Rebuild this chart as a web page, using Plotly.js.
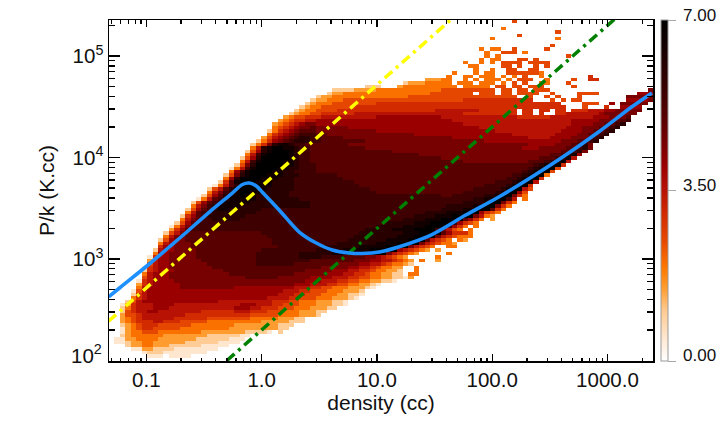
<!DOCTYPE html>
<html><head><meta charset="utf-8">
<script src="https://cdn.plot.ly/plotly-3.0.1.min.js"></script>
<style>html,body{margin:0;padding:0;background:#fff}</style></head>
<body><div id="chart" style="width:725px;height:425px"></div>
<script>
// Histogram levels, top row first. Run-length text: letter = level (a=0.5 ... n=7.0), '.' = empty bin, number = repeat.
const levelLetters = "abcdefghijklmn";
const levelStep = 0.5;
const histogramRows = [
".74e","",".72d",".82e",".75e",".70d.11d","",".81e",
".68d.1d2.2e.5e",".69d.2e3.1d",".69d.1d.12e",".68d.1d2.3e2.1e",
".65d.2d.1d.1e4.1e4",".66d2.4e2.1e.2e.1e",".67d.2d.2e2.2e2",".63d.3d.1d2.2e6d",
".62d.2d2.1d3.1d.1d.1e.2d.8f",".58c3d2.2d.1d.1d3.1d.1e3.2d.4e.2f2",
".54b1c3d4d1.1d3.1d3.1d.1e.1e.2d2.3e",".47b3.3c1d3d4d3.1d5.1e2.1e2.1e3.5e",
".41b4c4d6d6e10.1e2.1e2.1e3.18i1",".40b1c2d4d12e8.1e3.1e2.1e4.2e.4e4.7h3",
".38b1c2d4d10e20.2e.2e.1e.3e1.8i5",".37b1c2d3e10e12f13.3e.1e.1e2.8h4i1",
".36b1c1d3e8f34.4e3.2h1.1i5",".35b1c1d2e6f39.3e1.3f1.2h4",
".34b1c1d2e4f18g8f7.1f2.1f2.1f2.1f3g3h2i5",".33b1c1d2e2f6g20f10.1f2.1f1.2f2g6h1i6",
".32c1d1e2f3g10h12g14f6g8h3i3j1",".31c1d1e1f2g2h25g22h5i3j2k1",
".30c1d1e1f1g1h1i2h27g20h4i2j2k1l1",".30d1e1f1g1h1i2j1i6h24g16h3i3j2k1l1",
".29b1d1f1g1h1i1j3i11h22g12h4i2j2k1l1",".29d1f1g1h1i1j1k3j2i16h18g8h4i2j2k1l1",
".28c1e1g1h1i1j1k1l2k2j4i20h14g4h4i3j1k1l1",".27b1d1f1h1i1j1k1l3k2j8i22h14i3j2k1l1",
".26b1d1f1i1l1m2l1k2j8i33h5i3j1k1l1i1",".26d1g1l1m1n2m2l1k2j10i29h3i5j2k1l1i1",
".25b1e1h1l1m1n3m1l1k2j15i31j2k1l1i1",".25d1g1k1m1n4m1l1k2j20i24j2k1l1m1h1",
".24b1e1h1l1n5m1l1k2j24i18j3k1l1m1g1",".24d1g1k1m1n4m2l1k2j28i12j3k1l1m1n1g1",
".23b1e1i1l1n5m2l1k3j40k1l1m1n2f1",".22a1d1g1k1m1n4m2l2k3j39k1l1m1n2e1",
".22d1h1k1m1n4m2l2k4j38k1l1m1n2e1",".21b1e1i1l1m1n3m3l3k7j32k2l1m1n2d1",
".21d1h1l1n4m3l3k9j30k2l1m1n2f1",".20b1f1j1m1n3m3l4k11j26k3l1m1n2g1",
".19a1d1g1j1l1n4m2l4k12j23k4l1m1n2f1",".18b1e1g1j1l1m1n3m2l5k14j19k5l1m1n2g1e1",
".18d1g1i1k1l1m1n2m2l5k16j16k6l1m1n2h1e1",".17b1e1h1j1l1m2n1m2l6k28j2k6l2m1n2i1f1d1",
".16a1d1g1j1k1l1m5l8k32l2m2n2k1g1.1d1",".15b1e1h1j1k1l1m5l11k28l4m1n2i1f1d1",
".15d1g1i1k1l1m4l13k25l5m2n2i1f1d1",".14b1e1h1j1k1l1m2l6k33l4m3n2j1f1d1",
".14d1g1j1k2l8k31l4m3n3h1f1e1d1",".13b1f1h1j1k1l7k31l4m3n4i1g1d1c1",
".13d1g1i1j1k2l5k30l4m3n4j1h1f1d1.1c1",".12b1e1h1j1k35l5m3n4k1h1f1e1d1",
".11a1d1g1i1j1k33l5m4n4k1h1f1d1.1d1",".11c1f1h1j1k32l5m4n4k1i1g1e1d1.1d1",
".10b1e1g1i1j14k18l8m3n4j1h1f3d1",".10d1g1i2j15k16l8m3n4i1g1f1e1d3",
".9b1e1h1i2j16k14l7m4n3j1g1f1e1d1.1d1c1",".9d1g1h1i3j15k12l7m4n4i1g1f1e1d2c1",
".9f1h2i3j16k8l7m5n4i1g1f1e1d1.2d2",".8b1g1h2i4j12k10l5m5n5h1g1f1e1d1c1.1c1",
".8d1h2i5j11k8l6m6n4i1g1f1e1d1c1.5d1",".7a1f1h2i5j11k8l4k4j4i2h1g1f1e1d1c1.5d1",
".7c1g1h2i6j10k10j8i3h2g2f1e1d1c1.1d1.2c1",".7e1g1h2i7j9k7j8i4h2g2f1e1d2c1b1",
".6a1f1g1h2i8j20i5h2g2f1e1d2c2.2d1",".6b1f1g1h3i9j15i5h3g2f2e1d2c2b1.2d1",
".6d1g1h3i11j12i6h3g2f2e1d2c2b2.1d2",".6e1g1h3i14j6i6h4g3f2e2d2c2b2a1c1",
".5a1f1g1h4i24h3g3f2e2d2c2b2a1",".5c1f1g1h5i21h3g3f2e2d2c2b1a1",
".5d1g1h6i10h11g3f2e2d3c3b1a1",".4a1e1g1h25g3f2e3d3c3b1",
".4b1f1g1h24g3f2e3d3c2b2a1",".4d1f1g1h22g4f2e3d3c3b1a1",
".3b1e1g1h14g10f3e2d3c3b2a1",".2a1c1f1g3h4g12h3g3f2e3d3c3b2a1",
".2b1d1f1g3h3g12h3g2f3e3d3c3b2",".2b1e1f1g2h2g8f6g3f3e3d3c3b2",
".2c1e2f1g8f12e5d4c3b1",".2c1d1e1f1g6f6e8d5c3b2",
".2c1d1e1f3g2f3e5d10c5b3",".2b1c1d1e1f3e6d8c8b3",
".2a1c1d1e1f2e5d9c9b2",".2a1c1d2e3d8c8b4a1.1b1",
".2b1c1d6c8b6a2",".1a2c2d4c7b6a3",
".1a2b1c2d2c6b6a4",".3b1c2d2c3b6a5",
".4a2c2b4a8",".6a1b3a8",
".7a3.1a4",""
];
const binCount = 100;
const densityLogRange = [-1.324, 3.395];
const pressureLogRange = [1.995, 5.355];

const curveDensity = [0.047,0.0585,0.106,0.158,0.214,0.352,0.557,0.681,0.782,0.90,1.01,1.42,2.12,2.98,4.10,5.75,7.46,10.5,15.6,29.4,59,115,222,434,843,1630,2432];
const curvePressure = [423,518,893,1313,1763,2904,4467,5420,5610,5240,4580,3040,1845,1437,1227,1146,1133,1172,1322,1723,2711,4110,6470,10590,17950,31620,43250];

const yellowDensity = [0.047,45];
const yellowPressure = [244,234000];
const greenDensity = [0.5,1150];
const greenPressure = [100,230000];

const xTickVals = [0.1,1,10,100,1000];
const xTickText = ["0.1","1.0","10.0","100.0","1000.0"];
const yTickVals = [1000,10000,100000];
const yTickText = ["10<sup>3</sup>","10<sup>4</sup>","10<sup>5</sup>"];
const barLabels = ["7.00","3.50","0.00"];

function decodeRow(text){
  const out = [];
  const re = /([a-n.])(\d*)/g; let m;
  while((m = re.exec(text))){
    const n = m[2] === "" ? 1 : +m[2];
    const v = m[1] === "." ? null : (levelLetters.indexOf(m[1]) + 1) * levelStep;
    for(let i=0;i<n;i++) out.push(v);
  }
  while(out.length < binCount) out.push(null);
  return out.slice(0,binCount);
}
const z = histogramRows.map(decodeRow).reverse();
const edges = (r)=>{const e=[];for(let i=0;i<=binCount;i++)e.push(Math.pow(10,r[0]+(r[1]-r[0])*i/binCount));return e;};
const minorsBetween = (a,b)=>{const t=[];for(let d=a;d<=b;d++)for(let k=1;k<=9;k++)t.push(k*Math.pow(10,d));return t;};

const L=109.3,T=20,W=544,H=341;
const px=(x)=>(x-L)/W, py=(y)=>(T+H-y)/H;
const barY=[15,185,355];
const font={family:'"Liberation Sans",Arial,sans-serif',color:'#111'};

const data=[
 {type:'heatmap',x:edges(densityLogRange),y:edges(pressureLogRange),z:z,zmin:0,zmax:7,
  hoverongaps:false,
  colorscale:[[0,'#ffffff'],[0.0625,'#ffe9d5'],[0.15,'#ffc98f'],[0.21,'#ff9f33'],[0.27,'#ff7a00'],[0.35,'#e84a00'],[0.43,'#d22a00'],[0.5,'#b81205'],[0.57,'#9c0000'],[0.64,'#780000'],[0.71,'#5a0000'],[0.79,'#3c0000'],[0.86,'#280000'],[0.93,'#120000'],[1,'#000000']],
  colorbar:{x:px(660.8),xanchor:'left',xpad:0,y:0.5,yanchor:'middle',ypad:0,len:1,lenmode:'fraction',thickness:6.5,thicknessmode:'pixels',
    outlinecolor:'#999',outlinewidth:1,borderwidth:0,tickmode:'array',tickvals:[0,3.5,7],ticks:'outside',ticklen:8,tickcolor:'#aaa',tickwidth:1,showticklabels:false}},
 {type:'scatter',mode:'lines',x:yellowDensity,y:yellowPressure,line:{color:'#ffff00',width:3.5,dash:'10px,5px,3px,5px'},hoverinfo:'skip',showlegend:false},
 {type:'scatter',mode:'lines',x:greenDensity,y:greenPressure,line:{color:'#008000',width:3.5,dash:'10px,5px,3px,5px'},hoverinfo:'skip',showlegend:false},
 {type:'scatter',mode:'lines',x:curveDensity,y:curvePressure,line:{color:'#1e90ff',width:3.6,shape:'spline',smoothing:0.8},hoverinfo:'skip',showlegend:false}
];
const layout={
 width:725,height:425,paper_bgcolor:'#fff',plot_bgcolor:'#fff',showlegend:false,
 margin:{l:L,r:725-L-W,t:T,b:425-T-H,pad:0},
 font:Object.assign({size:20},font),
 xaxis:{type:'log',range:densityLogRange,tickmode:'array',tickvals:xTickVals,ticktext:xTickText,ticks:'inside',ticklen:7,tickwidth:1.3,tickcolor:'#000',
   minor:{tickmode:'array',tickvals:minorsBetween(-2,3),ticks:'inside',ticklen:3.5,tickwidth:1.3,tickcolor:'#000'},
   showline:true,linecolor:'#000',linewidth:1.5,mirror:'ticks',showgrid:false,zeroline:false,tickfont:{size:20.5},
   title:{text:'density (cc)',font:{size:21},standoff:2}},
 yaxis:{type:'log',range:pressureLogRange,tickmode:'array',tickvals:yTickVals,ticktext:yTickText,ticks:'inside',ticklen:11,tickwidth:1.3,tickcolor:'#000',
   minor:{tickmode:'array',tickvals:minorsBetween(1,5),ticks:'inside',ticklen:6,tickwidth:1.3,tickcolor:'#000'},
   showline:true,linecolor:'#000',linewidth:1.5,mirror:'ticks',showgrid:false,zeroline:false,tickfont:{size:20.5},
   title:{text:'P/k (K.cc)',font:{size:21},standoff:12}},
 annotations:[
  {xref:'paper',yref:'paper',x:px(104),y:py(354),text:'10<sup>2</sup>',showarrow:false,xanchor:'right',yanchor:'middle',font:{size:20.5}}
 ].concat(barLabels.map((t,i)=>({xref:'paper',yref:'paper',x:px(681),y:py(barY[i]),text:t,showarrow:false,xanchor:'left',yanchor:'middle',font:{size:17}})))
};
Plotly.newPlot('chart',data,layout,{displayModeBar:false,staticPlot:true});
</script></body></html>
